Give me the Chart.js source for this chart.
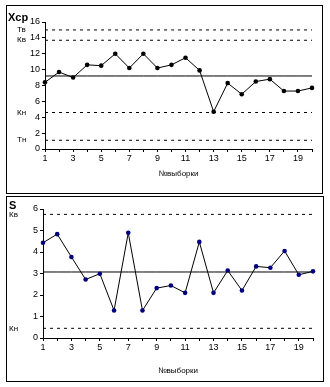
<!DOCTYPE html>
<html>
<head>
<meta charset="utf-8">
<script src="https://cdn.jsdelivr.net/npm/chart.js@4/dist/chart.umd.min.js"></script>
<style>
  body { margin: 0; background: #fff; width: 330px; height: 387px; position: relative; }
  .panel { position: absolute; border: 1px solid #000; background: #fff; }
  #topPanel { left: 6px; top: 5px; width: 315px; height: 187px; }
  #bottomPanel { left: 6px; top: 196px; width: 316px; height: 184px; }
  canvas { display: block; }
</style>
</head>
<body>
<div class="panel" id="topPanel"><canvas id="meanChart" width="315" height="187"></canvas></div>
<div class="panel" id="bottomPanel"><canvas id="sdChart" width="316" height="184"></canvas></div>
<script>
// номера выборок
const samples = ["1", "2", "3", "4", "5", "6", "7", "8", "9", "10",
                 "11", "12", "13", "14", "15", "16", "17", "18", "19", "20"];

// средние значения по выборкам
const meanValues = [8.4, 9.7, 9.0, 10.6, 10.5, 12.0, 10.2, 12.0, 10.2, 10.6,
                    11.5, 9.9, 4.7, 8.3, 6.9, 8.5, 8.8, 7.3, 7.3, 7.7];
const meanCenter = 9.2;
const meanLimitValues = [15.0, 13.7, 4.6, 1.1];
const meanLimitLabels = ["Тв", "Кв", "Кн", "Тн"];
const meanTickMax = 16;
const meanTickStep = 2;

// стандартные отклонения по выборкам
const sdValues = [4.43, 4.83, 3.77, 2.72, 2.99, 1.28, 4.89, 1.28, 2.32, 2.44,
                  2.10, 4.47, 2.10, 3.14, 2.21, 3.33, 3.27, 4.05, 2.94, 3.10];
const sdCenter = 3.07;
const sdLimitValues = [5.75, 0.45];
const sdLimitLabels = ["Кв", "Кн"];
const sdTickMax = 6;
const sdTickStep = 1;

const xTitle = "№выборки";
const FONT = "'Liberation Sans', Arial, sans-serif";

// подписи слева от оси (название и границы)
const sideLabels = {
    id: "sideLabels",
    afterDraw(chart, args, opts) {
        const ctx = chart.ctx;
        const y = chart.scales.y;
        ctx.save();
        ctx.fillStyle = "#000";
        ctx.font = "bold 11px " + FONT;
        ctx.textBaseline = "middle";
        ctx.textAlign = "left";
        ctx.fillText(opts.title, opts.titleX, opts.titleY);
        ctx.font = "8px " + FONT;
        opts.labels.forEach((lbl, i) => {
            ctx.fillText(lbl, opts.labelX, y.getPixelForValue(opts.values[i]));
        });
        ctx.restore();
    }
};

function flat(v) {
    return samples.map(() => v);
}

function makeChart(id, cfg) {
    const ctx = document.getElementById(id).getContext("2d");
    const datasets = [{
        data: cfg.values,
        borderColor: "#000",
        borderWidth: 1,
        pointRadius: 2.3,
        pointBackgroundColor: cfg.pointColor,
        pointBorderColor: cfg.pointColor,
        pointBorderWidth: 0,
        tension: 0,
        order: 0
    }, {
        data: flat(cfg.center),
        borderColor: "#000",
        borderWidth: 1,
        pointRadius: 0,
        order: 1
    }];
    cfg.limits.forEach(v => {
        datasets.push({
            data: flat(v),
            borderColor: "#000",
            borderWidth: 1,
            borderDash: [3, 4],
            pointRadius: 0,
            order: 2
        });
    });

    return new Chart(ctx, {
        type: "line",
        data: { labels: samples, datasets: datasets },
        plugins: [sideLabels],
        options: {
            responsive: false,
            animation: false,
            events: [],
            layout: { padding: { top: cfg.padTop, right: cfg.padRight, left: 0, bottom: 0 } },
            plugins: {
                legend: { display: false },
                tooltip: { enabled: false },
                sideLabels: {
                    title: cfg.title, titleX: cfg.titleX, titleY: cfg.titleY,
                    labels: cfg.limitLabels, values: cfg.limits, labelX: cfg.labelX
                }
            },
            scales: {
                x: {
                    offset: false,
                    afterFit: s => { s.height = cfg.xHeight; },
                    grid: { drawOnChartArea: false, color: "#000", tickLength: 3 },
                    border: { color: "#000" },
                    ticks: {
                        autoSkip: false, maxRotation: 0, padding: 1, color: "#000",
                        font: { family: FONT, size: 9 },
                        callback: (v, i) => (i % 2 === 0 ? samples[i] : "")
                    },
                    title: {
                        display: true, text: xTitle, color: "#000",
                        font: { family: FONT, size: 8 },
                        padding: { top: 0, bottom: cfg.titlePad }
                    }
                },
                y: {
                    min: 0,
                    max: cfg.tickMax,
                    afterFit: s => { s.width = cfg.yWidth; },
                    grid: { drawOnChartArea: false, color: "#000", tickLength: 3 },
                    border: { color: "#000" },
                    ticks: {
                        stepSize: cfg.tickStep, padding: 2, color: "#000",
                        font: { family: FONT, size: 9 }
                    }
                }
            }
        }
    });
}

makeChart("meanChart", {
    values: meanValues, center: meanCenter, limits: meanLimitValues,
    limitLabels: meanLimitLabels, tickMax: meanTickMax, tickStep: meanTickStep,
    pointColor: "#000", title: "Xср", titleX: 1, titleY: 12, labelX: 10,
    padTop: 16, padRight: 10, yWidth: 38, xHeight: 44, titlePad: 14
});

makeChart("sdChart", {
    values: sdValues, center: sdCenter, limits: sdLimitValues,
    limitLabels: sdLimitLabels, tickMax: sdTickMax, tickStep: sdTickStep,
    pointColor: "#000080", title: "S", titleX: 2, titleY: 9, labelX: 2,
    padTop: 12, padRight: 10, yWidth: 36, xHeight: 43, titlePad: 5
});
</script>
</body>
</html>
